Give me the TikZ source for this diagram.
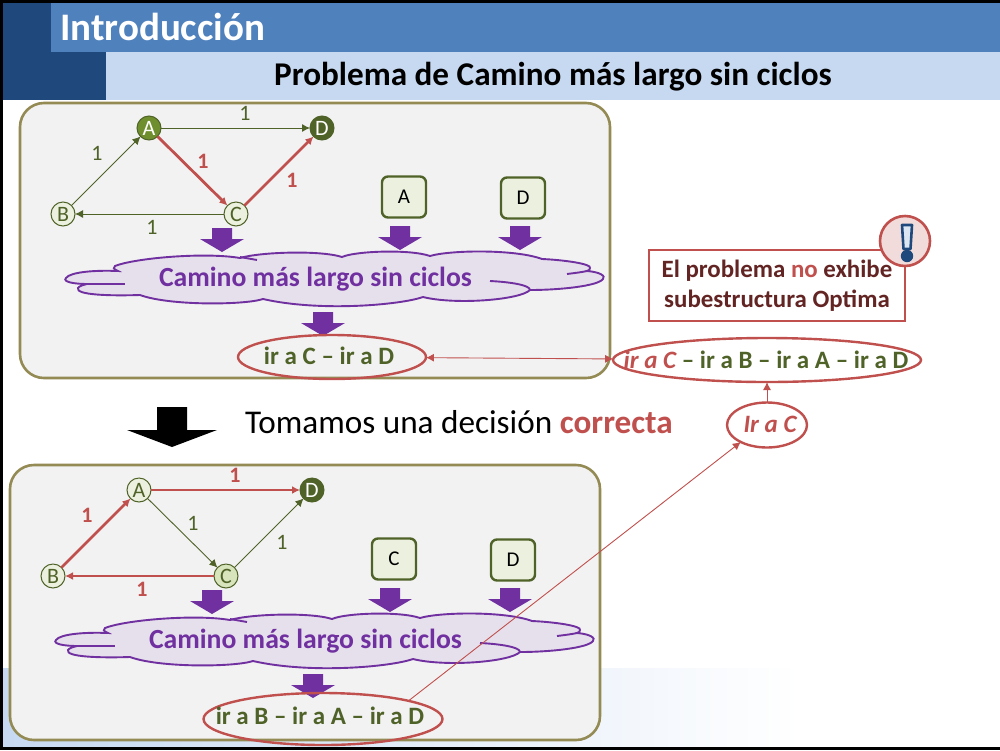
\documentclass[tikz,border=0pt]{standalone}
\usepackage{fontspec}
\setmainfont{Carlito}
\usetikzlibrary{arrows.meta,shapes.geometric}
\definecolor{navydark}{HTML}{1F497D}
\definecolor{bandblue}{HTML}{4F81BD}
\definecolor{bandlight}{HTML}{C6D9F1}
\definecolor{boxfill}{HTML}{F2F2F2}
\definecolor{boxline}{HTML}{948A54}
\definecolor{grn}{HTML}{4F6228}
\definecolor{grnmid}{HTML}{6F8F2F}
\definecolor{grnlight}{HTML}{EBF1DE}
\definecolor{grnsoft}{HTML}{D7E4BC}
\definecolor{redm}{HTML}{C0504D}
\definecolor{redd}{HTML}{632523}
\definecolor{redl}{HTML}{F2DCDB}
\definecolor{purp}{HTML}{7030A0}
\definecolor{purpl}{HTML}{E6E0EC}
\definecolor{iconfill}{HTML}{DCE6F2}
\newcommand{\fs}[1]{\fontsize{#1}{#1}\selectfont}
\newcommand{\cloudfig}{%
  \filldraw[cloudline,fill=purpl] (66,278) .. controls (70,272) and (95,270) .. (118,271)
    .. controls (113,269) and (113,267) .. (115,266)
    .. controls (135,258) and (205,252) .. (240,258)
    .. controls (260,252) and (320,250) .. (342,257)
    .. controls (355,251) and (410,249) .. (430,256)
    .. controls (450,250) and (515,249) .. (542,259)
    .. controls (565,260) and (592,264) .. (590,268)
    .. controls (590,270) and (589,270) .. (587,271)
    .. controls (600,272) and (606,276) .. (603,279)
    .. controls (598,286) and (560,290) .. (530,290)
    .. controls (520,300) and (455,305) .. (423,297)
    .. controls (400,305) and (320,312) .. (263,299)
    .. controls (245,305) and (170,306) .. (140,295)
    .. controls (110,296) and (75,295) .. (78,288)
    .. controls (79,286) and (83,285) .. (87,284)
    .. controls (75,284) and (62,282) .. (66,278) -- cycle;
  \draw[cloudline] (567,274) .. controls (575,273) and (583,272) .. (587,271);
  \draw[cloudline] (490,281) .. controls (510,282) and (530,285) .. (530,290);
  \draw[cloudline] (87,284) -- (125,284);
  \draw[cloudline] (240,257) -- (257,260);
}
\newcommand{\downarrowfig}[2]{%
  \fill[purp] (#1-10,#2) -- (#1+10,#2) -- (#1+10,#2+11) -- (#1+22,#2+11) -- (#1,#2+24) -- (#1-22,#2+11) -- (#1-10,#2+11) -- cycle;}
\tikzset{
  cloudline/.style={draw=purp,line width=1.9pt},
  panel/.style={draw=boxline,fill=boxfill,line width=2.6pt,rounded corners=24pt},
  vtx/.style={circle,draw=grn,line width=1pt,minimum size=24pt,inner sep=0pt,outer sep=0pt,text=grn,font=\fs{22}},
  vlight/.style={vtx,fill=grnlight},
  vsoft/.style={vtx,fill=grnsoft},
  vmid/.style={vtx,fill=grnmid,text=white},
  vdark/.style={vtx,fill=grn,text=white},
  thin edge/.style={draw=grn,line width=0.9pt,-{Latex[length=8pt,width=8pt]}},
  red edge/.style={draw=redm,line width=2.8pt,-{Latex[length=8pt,width=8pt]}},
  wlabel/.style={text=grn,font=\fs{22},inner sep=0pt},
  rlabel/.style={text=redm,font=\bfseries\fs{22},inner sep=0pt},
  tagbox/.style={draw=grn,fill=grnlight,line width=2.4pt,rounded corners=6pt,minimum width=44pt,minimum height=41pt,inner sep=0pt,font=\fs{21}},
  oval/.style={ellipse,draw=redm,line width=2.4pt,inner sep=0pt,outer sep=0pt},
  thin red/.style={draw=redm,line width=0.9pt,-{Latex[length=8pt,width=8pt]}},
  thin red both/.style={draw=redm,line width=0.9pt,{Latex[length=8pt,width=8pt]}-{Latex[length=8pt,width=8pt]}},
  cloudtext/.style={text=purp,font=\bfseries\fs{27.7},inner sep=0pt},
  pathtext/.style={text=grn,font=\bfseries\fs{25},inner sep=0pt},
}
\begin{document}
\begin{tikzpicture}[x=1pt,y=-1pt]
\useasboundingbox (0,0) rectangle (1000,750);
\fill[white] (0,0) rectangle (1000,750);
% slide background
\shade[left color=bandlight,right color=white] (3,668) rectangle (800,747);
\fill[black] (0,0) rectangle (1000,3);
\fill[black] (0,0) rectangle (3,750);
\fill[black] (0,747) rectangle (1000,750);
\fill[bandblue] (51,3) rectangle (1000,52);
\fill[bandlight] (106,52) rectangle (1000,100);
\fill[navydark] (3,3) rectangle (51,100);
\fill[navydark] (51,52) rectangle (106,100);
\node[text=white,font=\bfseries\fs{39},inner sep=0pt,anchor=west] (title) at (60,27) {Introducción};
\node[text=black,font=\bfseries\fs{33.2},inner sep=0pt] (subtitle) at (553,77) {Problema de Camino más largo sin ciclos};
% upper panel
\draw[panel] (20,103) rectangle (610,378);
\cloudfig
\downarrowfig{222}{228}
\downarrowfig{400}{226}
\downarrowfig{520}{226}
\downarrowfig{323}{312}
\node[vmid] (a1) at (149,128) {A};
\node[vdark] (d1) at (322,128) {D};
\node[vlight] (b1) at (63,214) {B};
\node[vlight] (c1) at (236,214) {C};
\draw[thin edge] (a1) -- (d1);
\draw[thin edge] (b1) -- (a1);
\draw[thin edge] (c1) -- (b1);
\draw[red edge] (a1) -- (c1);
\draw[red edge] (c1) -- (d1);
\node[wlabel] (w1) at (245,113) {1};
\node[wlabel] (w2) at (97,153) {1};
\node[rlabel] (w3) at (203,161) {1};
\node[rlabel] (w4) at (292,180) {1};
\node[wlabel] (w5) at (152,227) {1};
\node[tagbox] (t1) at (404,197) {A};
\node[tagbox] (t2) at (523,198) {D};
\node[cloudtext] (c1text) at (315.5,279) {Camino más largo sin ciclos};
\node[oval,minimum width=188pt,minimum height=44pt] (e1) at (332,357) {};
\node[pathtext] (e1text) at (329,356) {ir a C – ir a D};
% middle
\fill[black] (157,407) -- (187,407) -- (187,430) -- (217,430) -- (172,447) -- (127,430) -- (157,430) -- cycle;
\node[inner sep=0pt,anchor=west,font=\fs{33.2}] (mid) at (245,422) {Tomamos una decisión \textcolor{redm}{\bfseries correcta}};
% lower panel
\begin{scope}[shift={(-10,362)}]
\draw[panel] (20,103) rectangle (610,378);
\cloudfig
\downarrowfig{222}{228}
\downarrowfig{400}{226}
\downarrowfig{520}{226}
\downarrowfig{323}{312}
\node[vlight] (a2) at (149,128) {A};
\node[vdark] (d2) at (322,128) {D};
\node[vlight] (b2) at (63,214) {B};
\node[vsoft] (c2) at (236,214) {C};
\draw[red edge] (a2) -- (d2);
\draw[red edge] (b2) -- (a2);
\draw[red edge] (c2) -- (b2);
\draw[thin edge] (a2) -- (c2);
\draw[thin edge] (c2) -- (d2);
\node[rlabel] (x1) at (245,113) {1};
\node[rlabel] (x2) at (97,153) {1};
\node[wlabel] (x3) at (203,161) {1};
\node[wlabel] (x4) at (292,180) {1};
\node[rlabel] (x5) at (152,227) {1};
\node[tagbox] (t3) at (404,197) {C};
\node[tagbox] (t4) at (523,198) {D};
\node[cloudtext] (c2text) at (315.5,279) {Camino más largo sin ciclos};
\end{scope}
\node[oval,minimum width=239pt,minimum height=52pt] (e2) at (323,719) {};
\node[pathtext] (e2text) at (320,716) {ir a B – ir a A – ir a D};
% right side
\node[oval,minimum width=308pt,minimum height=44pt] (e3) at (767,360) {};
\node[pathtext] (e3text) at (766,360) {\textcolor{redm}{\bfseries\itshape ir a C} – ir a B – ir a A – ir a D};
\node[oval,minimum width=80pt,minimum height=45pt] (e4) at (767,425) {};
\node[text=redm,font=\bfseries\itshape\fs{25},inner sep=0pt] (e4text) at (770,424) {Ir a C};
\draw[thin red both] (e1) -- (e3);
\draw[thin red] (e4) -- (e3);
\draw[thin red] (e2.12) -- (e4.213);
\node[draw=redm,fill=white,line width=2pt,minimum width=256pt,minimum height=71pt,inner sep=0pt,align=center,text=redd,font=\bfseries\fs{24.9}] (warn) at (777,285.5) {El problema \textcolor{redm}{no} exhibe\\[5pt]subestructura Optima};
\node[circle,draw=redm,fill=redl,line width=2.6pt,minimum size=50pt,inner sep=0pt] (warnc) at (905,241) {};
\filldraw[draw=navydark,fill=iconfill,line width=2.6pt,line join=round] (902,225) -- (912,225) -- (910.5,249) -- (903.5,249) -- cycle;
\fill[navydark] (907,256) circle (6.2);
\end{tikzpicture}
\end{document}
